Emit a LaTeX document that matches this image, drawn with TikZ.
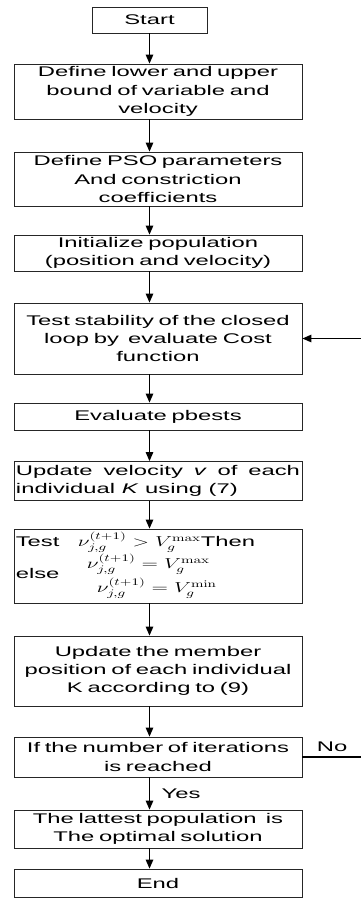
\documentclass[tikz,border=0pt]{standalone}
\usepackage[no-math]{fontspec}
\setmainfont{Liberation Sans}[FakeStretch=1.7]
\usepackage{amsmath}
\usepackage{graphicx}
\usepackage{tikz}
\usetikzlibrary{positioning}
\usetikzlibrary{calc,arrows.meta}

\tikzset{
	flowbox/.style={draw=black!85, line width=0.8pt, minimum width=288pt, inner sep=0pt,
		text width=284pt, align=center, font=\fontsize{14}{18.3}\selectfont},
	flowarrow/.style={draw=black, line width=1.2pt, -{Triangle[length=9pt,width=7.5pt]}},
	flowlabel/.style={inner sep=0pt, font=\fontsize{14}{18.3}\selectfont},
}
\newcommand{\wmath}[1]{\scalebox{1.5}[1]{$#1$}}

\begin{document}
\begin{tikzpicture}[x=1pt,y=-1pt]
		
		% ---------------------
		% Proper size --- Bounding box
		\useasboundingbox (0,0) rectangle (361,900);
		
		% ---------------------
		% Boxes
		\node[flowbox, minimum width=115pt, text width=110pt, minimum height=26pt] (Start) at (149.5,20) {Start};
		
		\node[flowbox, minimum height=55pt] (Bound) at (158,91.5) {Define lower and upper\\bound of variable and\\velocity};
		\node[flowbox, minimum height=54pt] (Param) at (158,179) {Define PSO parameters\\And constriction\\coefficients};
		\node[flowbox, minimum height=36pt] (Init) at (158,253) {Initialize population\\(position and velocity)};
		\node[flowbox, minimum height=71pt] (Cost) at (158,338.5) {Test stability of the closed\\loop by\ \ evaluate Cost\\function};
		\node[flowbox, minimum height=27pt] (Pbest) at (158,416.5) {Evaluate pbests};
		\node[flowbox, minimum height=39pt, align=justify] (Veloc) at (158,481) {Update velocity \textit{v} of each individual \textit{K} using (7)};
		\node[flowbox, minimum height=74pt] (Clamp) at (158,566) {};
		\node[flowbox, minimum height=70pt] (Posit) at (158,671) {Update the member\\position of each individual\\K according to (9)};
		\node[flowbox, minimum height=40pt] (Iter) at (158,757) {If the number of iterations\\is reached};
		\node[flowbox, minimum height=38pt] (Best) at (158,829) {The lattest population\ \ is\\The optimal solution};
		\node[flowbox, minimum height=28pt] (End) at (158,883) {End};
		
		% ---------------------
		% Velocity limits inside the test box
		\path (Clamp.north west) +(2,18) coordinate (Row1);
		\path (Clamp.north west) +(73,40) coordinate (Row2);
		\path (Clamp.north west) +(2,50) coordinate (Row2L);
		\path (Clamp.north west) +(83,64) coordinate (Row3);
		
		\node[flowlabel, anchor=base west] (TestL) at (Row1) {Test};
		\node[flowlabel, right=18pt of TestL.base east, anchor=base west] (Cond) {\wmath{\nu^{(t+1)}_{j,g}>V_g^{\max}}Then};
		\node[flowlabel, anchor=base west] (MaxSet) at (Row2) {\wmath{\nu^{(t+1)}_{j,g}=V_g^{\max}}};
		\node[flowlabel, anchor=base west] (ElseL) at (Row2L) {else};
		\node[flowlabel, anchor=base west] (MinSet) at (Row3) {\wmath{\nu^{(t+1)}_{j,g}=V_g^{\min}}};
		
		% ---------------------
		% Arrows
		\draw[flowarrow] (Start.south) -- (Start.south |- Bound.north);
		\foreach \a/\b in {Bound/Param, Param/Init, Init/Cost, Cost/Pbest, Pbest/Veloc,
			Veloc/Clamp, Clamp/Posit, Posit/Iter, Iter/Best, Best/End}
			\draw[flowarrow] (\a.south -| Start.south) -- (\b.north -| Start.south);
		
		\node[flowlabel, anchor=west] (YesL) at ($(Iter.south -| Start.south)+(12,16)$) {Yes};
		
		% Loop back
		\coordinate (LoopX) at (362,0);
		\draw[flowarrow] (Iter.east) -- (Iter.east -| LoopX) -- (Cost.east -| LoopX) -- (Cost.east);
		\node[flowlabel, anchor=base] (NoL) at ($(Iter.east)!0.5!(Iter.east -| LoopX)+(0,-6)$) {No};
		
\end{tikzpicture}
\end{document}
